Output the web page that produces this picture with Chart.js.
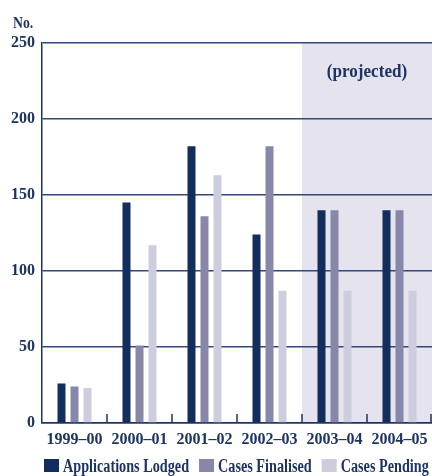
<!DOCTYPE html>
<html>
<head>
<meta charset="utf-8">
<script src="https://cdn.jsdelivr.net/npm/chart.js@4/dist/chart.umd.min.js"></script>
<style>
  html, body { margin: 0; padding: 0; background: #ffffff; }
  #wrap { width: 432px; height: 476px; position: relative; }
</style>
</head>
<body>
<div id="wrap"><canvas id="chart" width="432" height="476"></canvas></div>
<script>
// Financial years on the category axis
const years = ['1999–00', '2000–01', '2001–02', '2002–03', '2003–04', '2004–05'];
// Case counts per year
const applicationsLodged = [26, 145, 182, 124, 140, 140];
const casesFinalised     = [24, 51, 136, 182, 140, 140];
const casesPending       = [23, 117, 163, 87, 87, 87];
// Value-axis ticks
const yTicks = [0, 50, 100, 150, 200, 250];
// First year that is a projection
const projectedFrom = 4;

const INK = '#1d3462';
const SERIF = '"Liberation Serif", "Times New Roman", serif';

// Bold serif text squeezed horizontally by sx
function condensedText(ctx, text, x, y, size, sx, align) {
  ctx.save();
  ctx.font = 'bold ' + size + 'px ' + SERIF;
  const w = ctx.measureText(text).width * sx;
  let left = x;
  if (align === 'center') left = x - w / 2;
  else if (align === 'right') left = x - w;
  ctx.translate(left, y);
  ctx.scale(sx, 1);
  ctx.textAlign = 'left';
  ctx.fillText(text, 0, 0);
  ctx.restore();
  return w;
}

function bandLeft(x) {
  return (x.getPixelForValue(projectedFrom - 1) + x.getPixelForValue(projectedFrom)) / 2;
}

// Shaded band behind the projected years, with its caption
const projectedBand = {
  id: 'projectedBand',
  beforeDraw(chart) {
    const { ctx, chartArea: a, scales: { x } } = chart;
    const left = bandLeft(x);
    ctx.save();
    ctx.fillStyle = '#e4e3ee';
    ctx.fillRect(left, a.top, a.right - left, a.bottom - a.top);
    ctx.restore();
  },
  afterDraw(chart) {
    const { ctx, chartArea: a, scales: { x, y } } = chart;
    const left = bandLeft(x);
    ctx.save();
    ctx.fillStyle = INK;
    ctx.textBaseline = 'middle';
    condensedText(ctx, '(projected)', (left + a.right) / 2, y.getPixelForValue(231), 19, 0.9, 'center');
    ctx.restore();
  }
};

// Short upward ticks between year groups and the "No." unit label
const axisDecor = {
  id: 'axisDecor',
  afterDatasetsDraw(chart) {
    const { ctx, chartArea: a, scales: { x } } = chart;
    ctx.save();
    ctx.strokeStyle = INK;
    ctx.lineWidth = 1.5;
    ctx.beginPath();
    for (let i = 0; i < years.length; i++) {
      const b = i < years.length - 1
        ? (x.getPixelForValue(i) + x.getPixelForValue(i + 1)) / 2
        : a.right - 1;
      ctx.moveTo(b, a.bottom);
      ctx.lineTo(b, a.bottom - 9);
    }
    ctx.stroke();
    ctx.fillStyle = INK;
    ctx.textBaseline = 'alphabetic';
    condensedText(ctx, 'No.', 13, 27.5, 16, 0.86, 'left');
    ctx.restore();
  }
};

// Legend row along the bottom edge
const bottomLegend = {
  id: 'bottomLegend',
  afterDraw(chart) {
    const { ctx } = chart;
    let xPos = 44;
    const top = 459, boxW = 15, boxH = 13;
    ctx.save();
    chart.data.datasets.forEach((ds) => {
      ctx.fillStyle = ds.backgroundColor;
      ctx.fillRect(xPos, top, boxW, boxH);
      ctx.fillStyle = INK;
      ctx.textBaseline = 'alphabetic';
      const w = condensedText(ctx, ds.label, xPos + boxW + 4, top + 13, 18, 0.79, 'left');
      xPos += boxW + 4 + w + 10;
    });
    ctx.restore();
  }
};

new Chart(document.getElementById('chart'), {
  type: 'bar',
  data: {
    labels: years,
    datasets: [
      { label: 'Applications Lodged', data: applicationsLodged, backgroundColor: '#132d5d' },
      { label: 'Cases Finalised', data: casesFinalised, backgroundColor: '#8787a9' },
      { label: 'Cases Pending', data: casesPending, backgroundColor: '#cdcddd' }
    ]
  },
  options: {
    responsive: false,
    animation: false,
    devicePixelRatio: 1,
    layout: { padding: { top: 43, left: 0, right: 0, bottom: 0 } },
    datasets: { bar: { categoryPercentage: 0.6, barPercentage: 0.615 } },
    plugins: { legend: { display: false }, tooltip: { enabled: false } },
    scales: {
      x: {
        grid: { display: false, drawTicks: false },
        border: { color: INK, width: 1.5 },
        ticks: {
          color: INK,
          font: { family: SERIF, size: 16, weight: 'bold' },
          padding: 7,
          maxRotation: 0,
          autoSkip: false
        },
        afterFit(scale) {
          scale.height = 53;
          scale.paddingLeft = 0;
          scale.paddingRight = 0;
        }
      },
      y: {
        min: 0,
        max: 250,
        afterBuildTicks(scale) { scale.ticks = yTicks.map(v => ({ value: v })); },
        grid: { color: '#34477a', lineWidth: 1.5, drawTicks: false },
        border: { color: INK, width: 1.5 },
        ticks: {
          color: INK,
          font: { family: SERIF, size: 16, weight: 'bold' },
          padding: 7
        },
        afterFit(scale) { scale.width = 42; }
      }
    }
  },
  plugins: [projectedBand, axisDecor, bottomLegend]
});
</script>
</body>
</html>
